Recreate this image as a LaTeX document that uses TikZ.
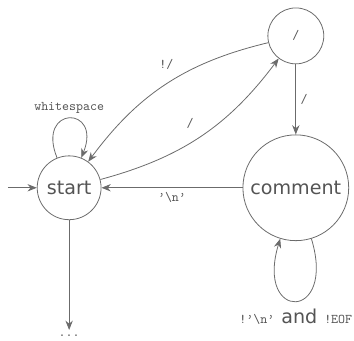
\documentclass[tikz,border=0pt]{standalone}
\usepackage{fontspec}
\setsansfont{DejaVu Sans}
\usetikzlibrary{arrows.meta}
\definecolor{linegray}{gray}{0.42}
\definecolor{textgray}{gray}{0.33}

\begin{document}
\begin{tikzpicture}[>={Stealth[length=7pt,width=5.5pt]},
  state/.style={circle,draw=linegray,line width=0.6pt,text=textgray,font=\Large\sffamily,inner sep=0pt},
  trans/.style={->,draw=linegray,line width=0.6pt},
  lbl/.style={font=\ttfamily,text=textgray}]
\useasboundingbox (0,0) rectangle (9.37,9.02);
%\draw[step=1cm,gray,very thin] (0,0) grid (9,9);
% states
\node[state,minimum size=1.69cm] (start) at (1.83,4.05) {start};
\node[state,minimum size=1.48cm,font=\ttfamily] (slash) at (7.83,8.07) {/};
\node[state,minimum size=2.80cm] (comment) at (7.83,4.05) {comment};
\coordinate (init) at (0.21,4.05);
\node[lbl] (more) at (1.83,0.14) {...};
% transitions
\draw[trans] (init) -- (start);
\draw[trans] (start) to[out=112,in=68,min distance=15mm] node[lbl,above] {whitespace} (start);
\draw[trans] (start) to[bend right=19] node[lbl,above left=2pt] {/} (slash);
\draw[trans] (slash) to[bend right=20] node[lbl,above=7pt] {!/} (start);
\draw[trans] (slash) -- node[lbl,right] {/} (comment);
\draw[trans] (comment) -- node[lbl,below] {’\textbackslash n’} (start);
\draw[trans] (comment) to[out=287,in=253,min distance=23mm]
  node[lbl,below=2pt] {!’\textbackslash n’ {\Large\sffamily and} !EOF} (comment);
\draw[trans] (start) -- (more);
\end{tikzpicture}
\end{document}
